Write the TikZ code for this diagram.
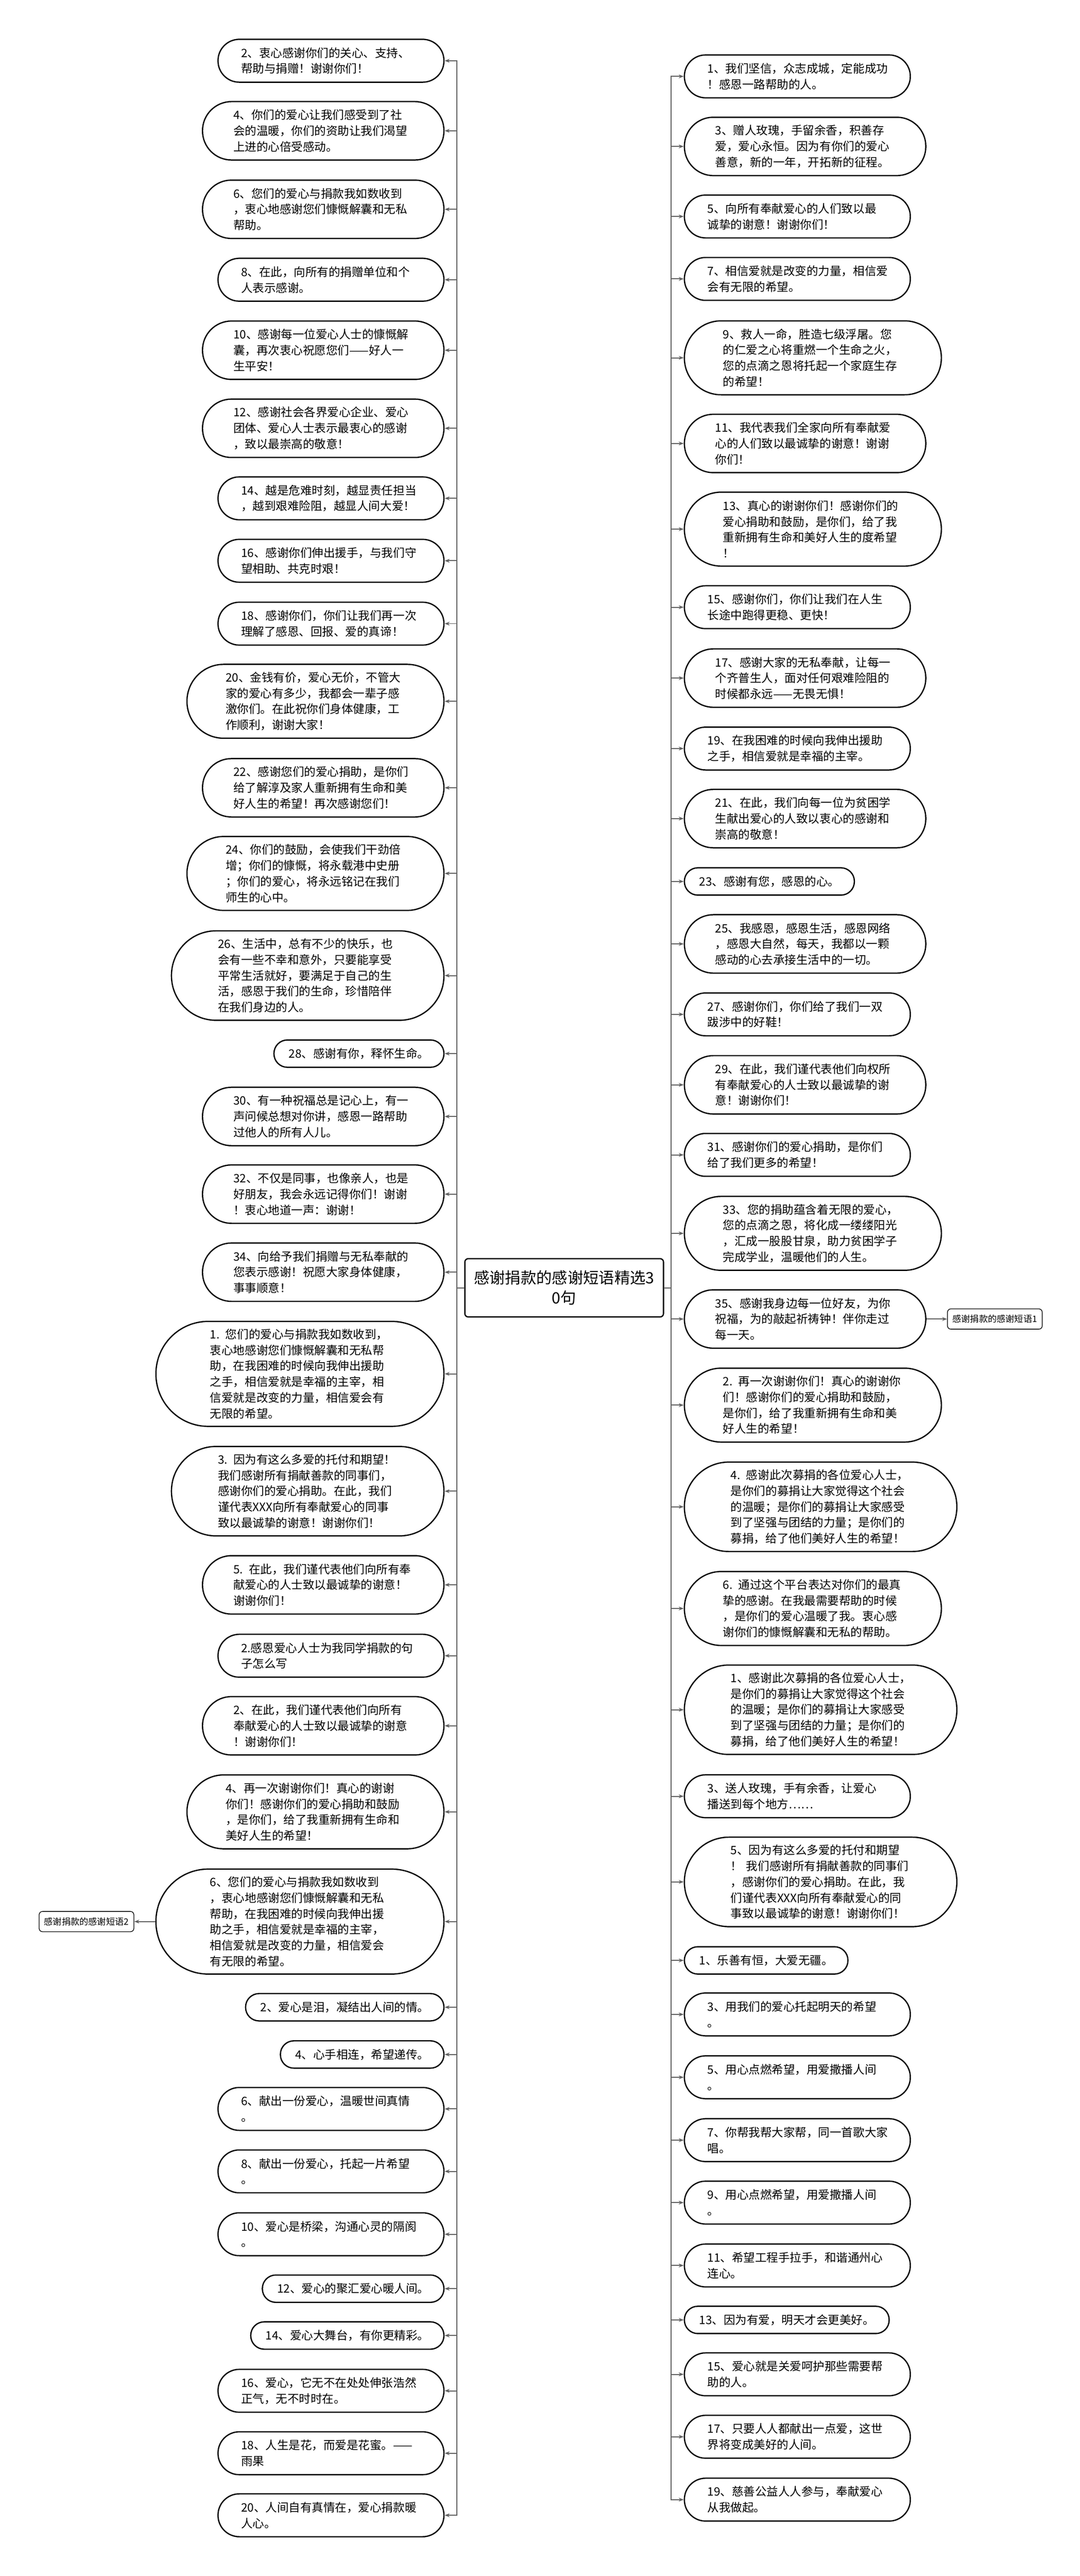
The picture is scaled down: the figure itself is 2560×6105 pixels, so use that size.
\documentclass[tikz,border=0pt]{standalone}
\usepackage{fontspec}
\setmainfont{Noto Sans CJK SC}
\usepackage{tikz}
\usetikzlibrary{arrows.meta, positioning}
\colorlet{colorLink}{black!62}
\colorlet{colorBorder}{black}
\tikzset{
  leaf/.style={rectangle, draw=colorBorder, line width=1.5pt, rounded corners={9.2pt*#1+6.8pt}, minimum height={18.4pt*#1+14pt}, text width=213pt, inner xsep={9.2pt*#1+9pt}, inner ysep=2pt, align=left, font=\fontsize{13.75pt}{18.75pt}\selectfont},
  leafL/.style={leaf=#1, anchor=east},
  leafR/.style={leaf=#1, anchor=west},
  leafone/.style={rectangle, draw=colorBorder, line width=1.5pt, rounded corners=16pt, minimum height=32.4pt, inner xsep=17.5pt, inner ysep=2pt, font=\fontsize{13.75pt}{18.75pt}\selectfont},
  leafoneL/.style={leafone, anchor=east},
  leafoneR/.style={leafone, anchor=west},
  root/.style={draw=colorBorder, line width=1.5pt, rounded corners=4pt, align=center, minimum width=235.5pt, minimum height=69pt, font=\fontsize{18.5pt}{24pt}\selectfont},
  tag/.style={draw=colorBorder, line width=0.8pt, rounded corners=4pt, minimum height=24pt, inner xsep=6pt, font=\fontsize{10.5pt}{12pt}\selectfont},
  link/.style={->, colorLink, line width=1.2pt}
}

\begin{document}
\begin{tikzpicture}[x=0.5pt, y=-0.5pt, >={Stealth[length=6pt, width=4.5pt]}]
\useasboundingbox (0,0) rectangle (2560,6105);
\node[root] (q0) at (1337.5,3052) {感谢捐款的感谢短语精选3\\0句};

\node[leafL=2] (l1) at (1054,144) {2、衷心感谢你们的关心、支持、\\帮助与捐赠！谢谢你们！};
\node[leafL=3] (l2) at (1054,310) {4、你们的爱心让我们感受到了社\\会的温暖，你们的资助让我们渴望\\上进的心倍受感动。};
\node[leafL=3] (l3) at (1054,496) {6、您们的爱心与捐款我如数收到\\，衷心地感谢您们慷慨解囊和无私\\帮助。};
\node[leafL=2] (l4) at (1054,663) {8、在此，向所有的捐赠单位和个\\人表示感谢。};
\node[leafL=3] (l5) at (1054,830) {10、感谢每一位爱心人士的慷慨解\\囊，再次衷心祝愿您们——好人一\\生平安！};
\node[leafL=3] (l6) at (1054,1015) {12、感谢社会各界爱心企业、爱心\\团体、爱心人士表示最衷心的感谢\\，致以最崇高的敬意！};
\node[leafL=2] (l7) at (1054,1181) {14、越是危难时刻，越显责任担当\\，越到艰难险阻，越显人间大爱！};
\node[leafL=2] (l8) at (1054,1329) {16、感谢你们伸出援手，与我们守\\望相助、共克时艰！};
\node[leafL=2] (l9) at (1054,1478) {18、感谢你们，你们让我们再一次\\理解了感恩、回报、爱的真谛！};
\node[leafL=4] (l10) at (1054,1662) {20、金钱有价，爱心无价，不管大\\家的爱心有多少，我都会一辈子感\\激你们。在此祝你们身体健康，工\\作顺利，谢谢大家！};
\node[leafL=3] (l11) at (1054,1867) {22、感谢您们的爱心捐助，是你们\\给了解淳及家人重新拥有生命和美\\好人生的希望！再次感谢您们！};
\node[leafL=4] (l12) at (1054,2070) {24、你们的鼓励，会使我们干劲倍\\增；你们的慷慨，将永载港中史册\\；你们的爱心，将永远铭记在我们\\师生的心中。};
\node[leafL=5] (l13) at (1054,2312) {26、生活中，总有不少的快乐，也\\会有一些不幸和意外，只要能享受\\平常生活就好，要满足于自己的生\\活，感恩于我们的生命，珍惜陪伴\\在我们身边的人。};
\node[leafoneL] (l14) at (1054,2497) {28、感谢有你，释怀生命。};
\node[leafL=3] (l15) at (1054,2646) {30、有一种祝福总是记心上，有一\\声问候总想对你讲，感恩一路帮助\\过他人的所有人儿。};
\node[leafL=3] (l16) at (1054,2830) {32、不仅是同事，也像亲人，也是\\好朋友，我会永远记得你们！谢谢\\！衷心地道一声：谢谢！};
\node[leafL=3] (l17) at (1054,3015) {34、向给予我们捐赠与无私奉献的\\您表示感谢！祝愿大家身体健康，\\事事顺意！};
\node[leafL=6] (l18) at (1054,3256) {1. 您们的爱心与捐款我如数收到，\\衷心地感谢您们慷慨解囊和无私帮\\助，在我困难的时候向我伸出援助\\之手，相信爱就是幸福的主宰，相\\信爱就是改变的力量，相信爱会有\\无限的希望。};
\node[leafL=5] (l19) at (1054,3534) {3. 因为有这么多爱的托付和期望！\\我们感谢所有捐献善款的同事们，\\感谢你们的爱心捐助。在此，我们\\谨代表XXX向所有奉献爱心的同事\\致以最诚挚的谢意！谢谢你们！};
\node[leafL=3] (l20) at (1054,3756) {5. 在此，我们谨代表他们向所有奉\\献爱心的人士致以最诚挚的谢意！\\谢谢你们！};
\node[leafL=2] (l21) at (1054,3924) {2.感恩爱心人士为我同学捐款的句\\子怎么写};
\node[leafL=3] (l22) at (1054,4090) {2、在此，我们谨代表他们向所有\\奉献爱心的人士致以最诚挚的谢意\\！谢谢你们！};
\node[leafL=4] (l23) at (1054,4294) {4、再一次谢谢你们！真心的谢谢\\你们！感谢你们的爱心捐助和鼓励\\，是你们，给了我重新拥有生命和\\美好人生的希望！};
\node[leafL=6] (l24) at (1054,4554) {6、您们的爱心与捐款我如数收到\\，衷心地感谢您们慷慨解囊和无私\\帮助，在我困难的时候向我伸出援\\助之手，相信爱就是幸福的主宰，\\相信爱就是改变的力量，相信爱会\\有无限的希望。};
\node[leafoneL] (l25) at (1054,4757) {2、爱心是泪，凝结出人间的情。};
\node[leafoneL] (l26) at (1054,4869) {4、心手相连，希望递传。};
\node[leafL=2] (l27) at (1054,4998) {6、献出一份爱心，温暖世间真情\\。};
\node[leafL=2] (l28) at (1054,5146) {8、献出一份爱心，托起一片希望\\。};
\node[leafL=2] (l29) at (1054,5295) {10、爱心是桥梁，沟通心灵的隔阂\\。};
\node[leafoneL] (l30) at (1054,5424) {12、爱心的聚汇爱心暖人间。};
\node[leafoneL] (l31) at (1054,5535) {14、爱心大舞台，有你更精彩。};
\node[leafL=2] (l32) at (1054,5666) {16、爱心，它无不在处处伸张浩然\\正气，无不时时在。};
\node[leafL=2] (l33) at (1054,5814) {18、人生是花，而爱是花蜜。——\\雨果};
\node[leafL=2] (l34) at (1054,5961) {20、人间自有真情在，爱心捐款暖\\人心。};
\node[tag, left=25pt of l24] (s2) {感谢捐款的感谢短语2};

\node[leafR=2] (r1) at (1621,181) {1、我们坚信，众志成城，定能成功\\！感恩一路帮助的人。};
\node[leafR=3] (r2) at (1621,347) {3、赠人玫瑰，手留余香，积善存\\爱，爱心永恒。因为有你们的爱心\\善意，新的一年，开拓新的征程。};
\node[leafR=2] (r3) at (1621,513) {5、向所有奉献爱心的人们致以最\\诚挚的谢意！谢谢你们！};
\node[leafR=2] (r4) at (1621,661) {7、相信爱就是改变的力量，相信爱\\会有无限的希望。};
\node[leafR=4] (r5) at (1621,848) {9、救人一命，胜造七级浮屠。您\\的仁爱之心将重燃一个生命之火，\\您的点滴之恩将托起一个家庭生存\\的希望！};
\node[leafR=3] (r6) at (1621,1051) {11、我代表我们全家向所有奉献爱\\心的人们致以最诚挚的谢意！谢谢\\你们！};
\node[leafR=4] (r7) at (1621,1254) {13、真心的谢谢你们！感谢你们的\\爱心捐助和鼓励，是你们，给了我\\重新拥有生命和美好人生的度希望\\！};
\node[leafR=2] (r8) at (1621,1439) {15、感谢你们，你们让我们在人生\\长途中跑得更稳、更快！};
\node[leafR=3] (r9) at (1621,1607) {17、感谢大家的无私奉献，让每一\\个齐普生人，面对任何艰难险阻的\\时候都永远——无畏无惧！};
\node[leafR=2] (r10) at (1621,1774) {19、在我困难的时候向我伸出援助\\之手，相信爱就是幸福的主宰。};
\node[leafR=3] (r11) at (1621,1940) {21、在此，我们向每一位为贫困学\\生献出爱心的人致以衷心的感谢和\\崇高的敬意！};
\node[leafoneR] (r12) at (1621,2089) {23、感谢有您，感恩的心。};
\node[leafR=3] (r13) at (1621,2237) {25、我感恩，感恩生活，感恩网络\\，感恩大自然，每天，我都以一颗\\感动的心去承接生活中的一切。};
\node[leafR=2] (r14) at (1621,2404) {27、感谢你们，你们给了我们一双\\跋涉中的好鞋！};
\node[leafR=3] (r15) at (1621,2571) {29、在此，我们谨代表他们向权所\\有奉献爱心的人士致以最诚挚的谢\\意！谢谢你们！};
\node[leafR=2] (r16) at (1621,2737) {31、感谢你们的爱心捐助，是你们\\给了我们更多的希望！};
\node[leafR=4] (r17) at (1621,2923) {33、您的捐助蕴含着无限的爱心，\\您的点滴之恩，将化成一缕缕阳光\\，汇成一股股甘泉，助力贫困学子\\完成学业，温暖他们的人生。};
\node[leafR=3] (r18) at (1621,3126) {35、感谢我身边每一位好友，为你\\祝福，为的敲起祈祷钟！伴你走过\\每一天。};
\node[leafR=4] (r19) at (1621,3330) {2. 再一次谢谢你们！真心的谢谢你\\们！感谢你们的爱心捐助和鼓励，\\是你们，给了我重新拥有生命和美\\好人生的希望！};
\node[leafR=5] (r20) at (1621,3571) {4. 感谢此次募捐的各位爱心人士，\\是你们的募捐让大家觉得这个社会\\的温暖；是你们的募捐让大家感受\\到了坚强与团结的力量；是你们的\\募捐，给了他们美好人生的希望！};
\node[leafR=4] (r21) at (1621,3812) {6. 通过这个平台表达对你们的最真\\挚的感谢。在我最需要帮助的时候\\，是你们的爱心温暖了我。衷心感\\谢你们的慷慨解囊和无私的帮助。};
\node[leafR=5] (r22) at (1621,4052) {1、感谢此次募捐的各位爱心人士，\\是你们的募捐让大家觉得这个社会\\的温暖；是你们的募捐让大家感受\\到了坚强与团结的力量；是你们的\\募捐，给了他们美好人生的希望！};
\node[leafR=2] (r23) at (1621,4257) {3、送人玫瑰，手有余香，让爱心\\播送到每个地方……};
\node[leafR=5] (r24) at (1621,4460) {5、因为有这么多爱的托付和期望\\！ 我们感谢所有捐献善款的同事们\\，感谢你们的爱心捐助。在此，我\\们谨代表XXX向所有奉献爱心的同\\事致以最诚挚的谢意！谢谢你们！};
\node[leafoneR] (r25) at (1621,4646) {1、乐善有恒，大爱无疆。};
\node[leafR=2] (r26) at (1621,4774) {3、用我们的爱心托起明天的希望\\。};
\node[leafR=2] (r27) at (1621,4923) {5、用心点燃希望，用爱撒播人间\\。};
\node[leafR=2] (r28) at (1621,5072) {7、你帮我帮大家帮，同一首歌大家\\唱。};
\node[leafR=2] (r29) at (1621,5220) {9、用心点燃希望，用爱撒播人间\\。};
\node[leafR=2] (r30) at (1621,5369) {11、希望工程手拉手，和谐通州心\\连心。};
\node[leafoneR] (r31) at (1621,5498) {13、因为有爱，明天才会更美好。};
\node[leafR=2] (r32) at (1621,5627) {15、爱心就是关爱呵护那些需要帮\\助的人。};
\node[leafR=2] (r33) at (1621,5775) {17、只要人人都献出一点爱，这世\\界将变成美好的人间。};
\node[leafR=2] (r34) at (1621,5924) {19、慈善公益人人参与，奉献爱心\\从我做起。};
\node[tag, right=24.5pt of r18] (s1) {感谢捐款的感谢短语1};

\foreach \i in {1,...,34} {
  \draw [link] (q0.west) -- ++(-17,0) |- (l\i);
  \draw [link] (q0.east) -- ++(17,0) |- (r\i);
}
\draw [link] (l24) -- (s2);
\draw [link] (r18) -- (s1);
\end{tikzpicture}
\end{document}
